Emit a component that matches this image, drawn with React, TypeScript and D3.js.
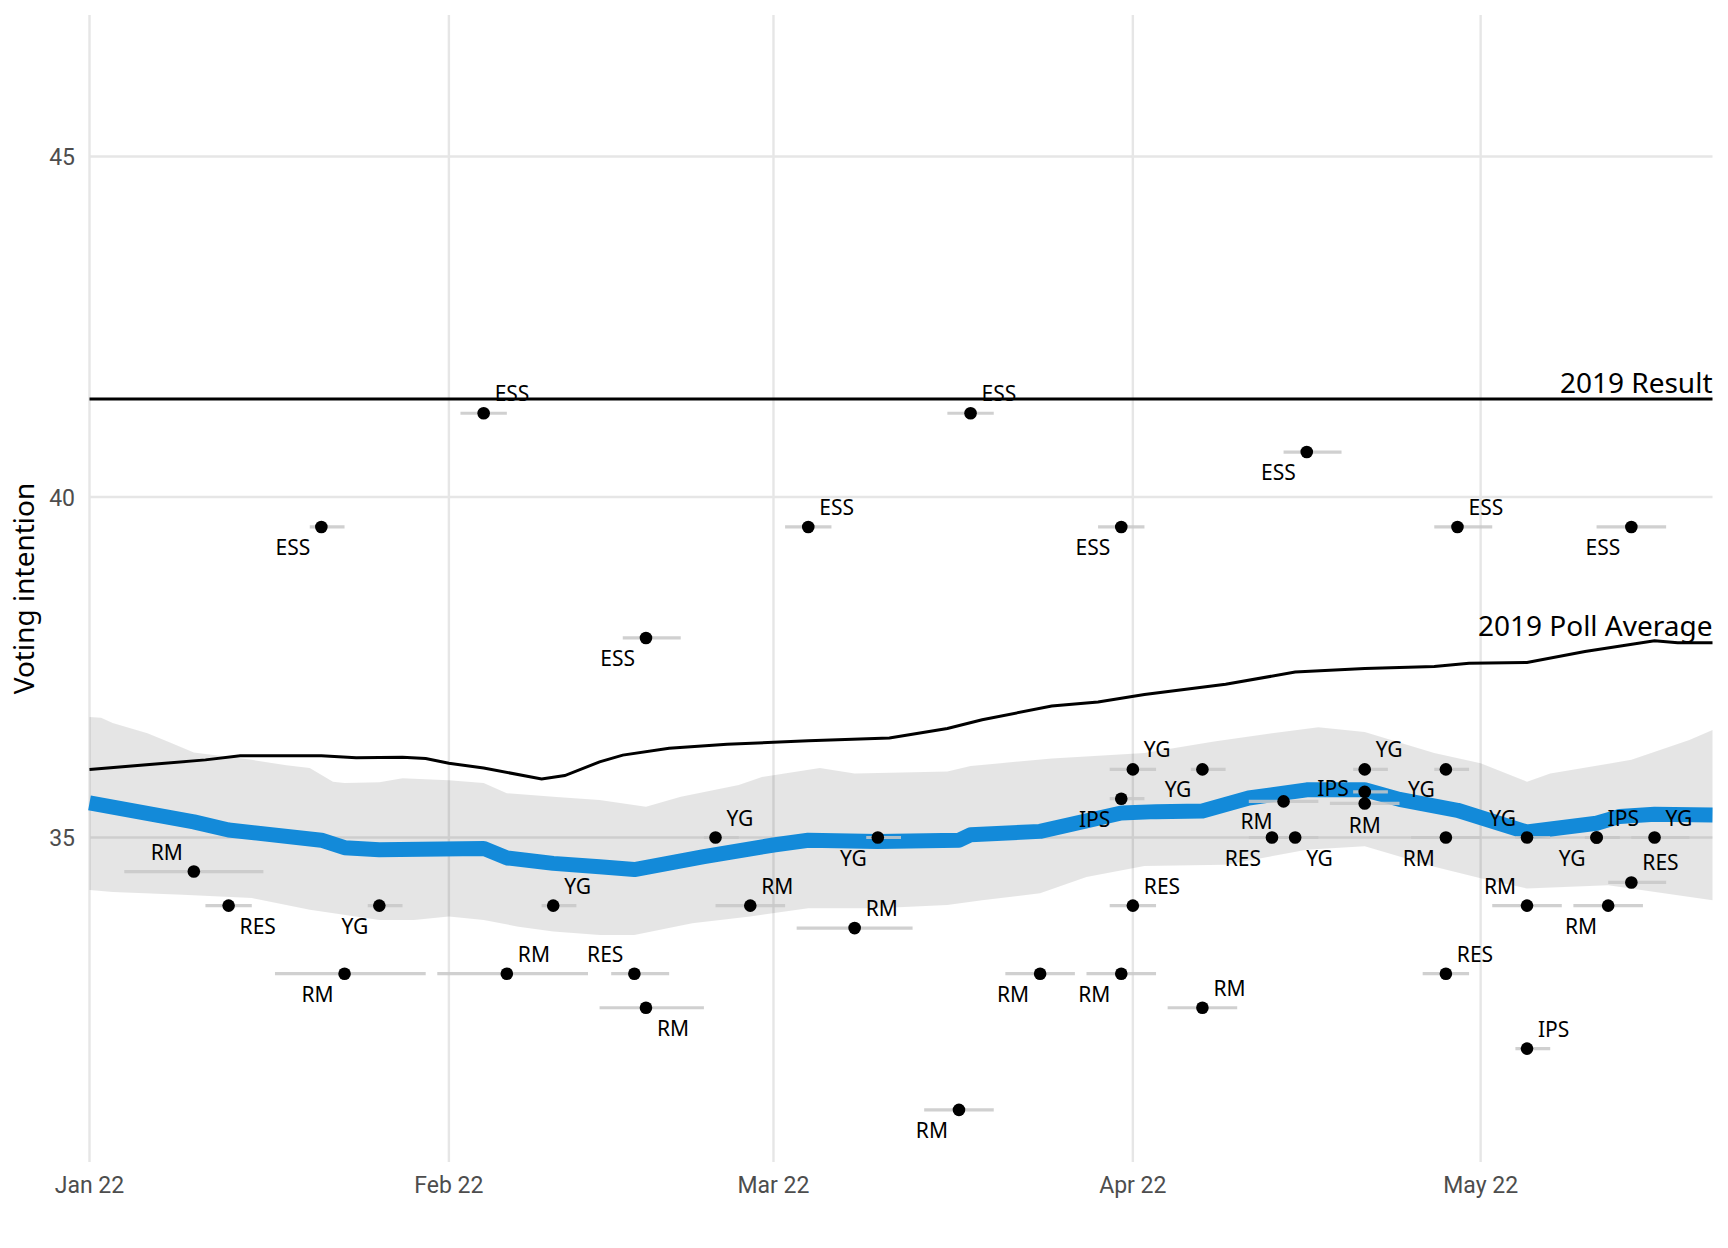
import React from "react";
import * as d3 from "d3";

// ---------- data ----------
const pollsters = ["RM","RES","ESS","RM","YG","ESS","RM","YG","RES","ESS","RM","YG","RM","ESS","RM","YG","RM","ESS","RM","ESS","RM","IPS","YG","RES","YG","RM","RES","RM","YG","ESS","YG","IPS","RM","YG","RM","RES","ESS","YG","RM","IPS","YG","IPS","RM","RES","ESS","YG"];
const pollDates = ["2022-01-10","2022-01-13","2022-01-21","2022-01-23","2022-01-26","2022-02-04","2022-02-06","2022-02-10","2022-02-17","2022-02-18","2022-02-18","2022-02-24","2022-02-27","2022-03-04","2022-03-08","2022-03-10","2022-03-17","2022-03-18","2022-03-24","2022-03-31","2022-03-31","2022-03-31","2022-04-01","2022-04-01","2022-04-07","2022-04-07","2022-04-13","2022-04-14","2022-04-15","2022-04-16","2022-04-21","2022-04-21","2022-04-21","2022-04-28","2022-04-28","2022-04-28","2022-04-29","2022-05-05","2022-05-05","2022-05-05","2022-05-11","2022-05-11","2022-05-12","2022-05-14","2022-05-14","2022-05-16"];
const pollValues = [34.5,34,39.56,33,34,41.23,33,34,33,37.93,32.5,35,34,39.56,33.67,35,31,41.23,33,39.56,33,35.57,36,34,36,32.5,35,35.53,35,40.66,36,35.67,35.5,36,35,33,39.56,35,34,31.9,35,35,34,34.34,39.56,35];
const pollStarts = ["2022-01-04","2022-01-11","2022-01-20","2022-01-17","2022-01-25","2022-02-02","2022-01-31","2022-02-09","2022-02-15","2022-02-16","2022-02-14","2022-02-23","2022-02-24","2022-03-02","2022-03-03","2022-03-09","2022-03-14","2022-03-16","2022-03-21","2022-03-29","2022-03-28","2022-03-30","2022-03-30","2022-03-30","2022-04-06","2022-04-04","2022-04-11","2022-04-11","2022-04-14","2022-04-14","2022-04-20","2022-04-20","2022-04-18","2022-04-27","2022-04-25","2022-04-26","2022-04-27","2022-05-04","2022-05-02","2022-05-04","2022-05-10","2022-05-10","2022-05-09","2022-05-12","2022-05-11","2022-05-14"];
const pollEnds = ["2022-01-16","2022-01-15","2022-01-23","2022-01-30","2022-01-28","2022-02-06","2022-02-13","2022-02-12","2022-02-20","2022-02-21","2022-02-23","2022-02-26","2022-03-02","2022-03-06","2022-03-13","2022-03-12","2022-03-20","2022-03-20","2022-03-27","2022-04-02","2022-04-03","2022-04-02","2022-04-03","2022-04-03","2022-04-09","2022-04-10","2022-04-15","2022-04-17","2022-04-17","2022-04-19","2022-04-23","2022-04-23","2022-04-24","2022-04-30","2022-05-01","2022-04-30","2022-05-02","2022-05-07","2022-05-08","2022-05-07","2022-05-13","2022-05-13","2022-05-15","2022-05-17","2022-05-17","2022-05-19"];
const labelPlacement = ["UL","LR","LL","LL","LL","UR","UR","UR","UL","LL","LR","UR","UR","UR","UR","LL","LL","UR","LL","LL","LL","LL","UR","UR","LL","UR","LL","LL","LR","LL","UR","L","B","LL","LL","UR","UR","UL","UL","UR","LL","UR","LL","UR","LL","UR"];

const trendDates = ["2022-01-01","2022-01-10","2022-01-13","2022-01-21","2022-01-23","2022-01-26","2022-02-04","2022-02-06","2022-02-10","2022-02-14","2022-02-17","2022-02-23","2022-03-01","2022-03-04","2022-03-10","2022-03-17","2022-03-18","2022-03-24","2022-03-31","2022-04-03","2022-04-07","2022-04-11","2022-04-16","2022-04-21","2022-04-24","2022-04-29","2022-05-05","2022-05-11","2022-05-13","2022-05-16","2022-05-21"];
const trendValues = [35.51,35.23,35.11,34.96,34.85,34.82,34.84,34.70,34.62,34.57,34.53,34.72,34.89,34.96,34.94,34.96,35.04,35.09,35.36,35.38,35.39,35.58,35.70,35.70,35.56,35.40,35.08,35.21,35.31,35.34,35.33];

const bandUpperDates = ["2022-01-01","2022-01-02","2022-01-03","2022-01-06","2022-01-08","2022-01-10","2022-01-15","2022-01-18","2022-01-20","2022-01-22","2022-01-23","2022-01-26","2022-01-28","2022-02-01","2022-02-04","2022-02-06","2022-02-10","2022-02-14","2022-02-18","2022-02-21","2022-02-26","2022-02-28","2022-03-05","2022-03-08","2022-03-16","2022-03-18","2022-03-25","2022-04-02","2022-04-08","2022-04-13","2022-04-17","2022-04-21","2022-04-27","2022-05-01","2022-05-05","2022-05-07","2022-05-14","2022-05-19","2022-05-21"];
const bandUpperValues = [36.77,36.76,36.68,36.53,36.39,36.25,36.14,36.06,36.02,35.82,35.80,35.81,35.87,35.84,35.80,35.65,35.60,35.55,35.45,35.60,35.77,35.89,36.02,35.94,35.97,36.05,36.16,36.24,36.41,36.53,36.62,36.55,36.24,36.09,35.82,35.94,36.14,36.43,36.58];
const bandLowerDates = ["2022-01-01","2022-01-03","2022-01-09","2022-01-15","2022-01-20","2022-01-26","2022-01-29","2022-02-01","2022-02-04","2022-02-07","2022-02-10","2022-02-14","2022-02-17","2022-02-22","2022-02-27","2022-03-04","2022-03-10","2022-03-16","2022-03-19","2022-03-24","2022-03-28","2022-04-02","2022-04-09","2022-04-16","2022-04-21","2022-04-27","2022-05-01","2022-05-05","2022-05-12","2022-05-21"];
const bandLowerValues = [34.23,34.20,34.16,34.11,33.94,33.79,33.79,33.84,33.79,33.69,33.62,33.57,33.57,33.74,33.84,33.96,33.96,34.01,34.08,34.18,34.42,34.58,34.60,34.82,34.87,34.57,34.40,34.25,34.30,34.08];

const avg2019Dates = ["2022-01-01","2022-01-11","2022-01-14","2022-01-21","2022-01-24","2022-01-28","2022-01-30","2022-02-01","2022-02-04","2022-02-09","2022-02-11","2022-02-14","2022-02-16","2022-02-20","2022-02-25","2022-03-04","2022-03-11","2022-03-16","2022-03-19","2022-03-25","2022-03-29","2022-04-02","2022-04-09","2022-04-15","2022-04-21","2022-04-27","2022-04-30","2022-05-05","2022-05-10","2022-05-16","2022-05-18","2022-05-21"];
const avg2019Values = [36.00,36.14,36.20,36.20,36.17,36.18,36.16,36.09,36.02,35.86,35.91,36.11,36.21,36.31,36.37,36.42,36.46,36.60,36.73,36.93,36.99,37.10,37.25,37.43,37.48,37.51,37.56,37.57,37.73,37.89,37.86,37.86];

const result2019 = 41.44;
const yTicks = [35, 40, 45];
const xTickDates = ["2022-01-01","2022-02-01","2022-03-01","2022-04-01","2022-05-01"];
const xDomain = ["2022-01-01", "2022-05-21"];
const yDomain = [30.235, 47.078];

// ---------- layout ----------
const W = 1728, H = 1248;
const P = { left: 89.5, right: 1712.5, top: 15, bottom: 1162 };
const LABEL_FONT = "'Noto Sans', 'Open Sans', sans-serif";
const TICK_FONT = "Roboto, 'Noto Sans', sans-serif";

const placement: Record<string, { anchor: string; dx: number; dy: number }> = {
  UR: { anchor: "start", dx: 11, dy: -12 },
  UL: { anchor: "end", dx: -11, dy: -12 },
  LR: { anchor: "start", dx: 11, dy: 28 },
  LL: { anchor: "end", dx: -11, dy: 28 },
  L: { anchor: "end", dx: -16, dy: 4 },
  B: { anchor: "middle", dx: 0, dy: 30 },
};

const parse = d3.utcParse("%Y-%m-%d");

export default function App() {
  const x = d3.scaleUtc().domain([parse(xDomain[0])!, parse(xDomain[1])!]).range([P.left, P.right]);
  const y = d3.scaleLinear().domain(yDomain).range([P.bottom, P.top]);
  const line = d3.line<[Date, number]>().x(d => x(d[0])).y(d => y(d[1]));
  const fmt = d3.utcFormat("%b %y");

  const trend: [Date, number][] = trendDates.map((d, i) => [parse(d)!, trendValues[i]]);
  const avg: [Date, number][] = avg2019Dates.map((d, i) => [parse(d)!, avg2019Values[i]]);
  const upper: [Date, number][] = bandUpperDates.map((d, i) => [parse(d)!, bandUpperValues[i]]);
  const lower: [Date, number][] = bandLowerDates.map((d, i) => [parse(d)!, bandLowerValues[i]]);
  const bandPath = line([...upper, ...lower.slice().reverse()]) + "Z";

  const polls = pollsters.map((p, i) => ({
    name: p,
    date: parse(pollDates[i])!,
    value: pollValues[i],
    start: parse(pollStarts[i])!,
    end: parse(pollEnds[i])!,
    place: placement[labelPlacement[i]],
  }));

  const avgLast = avg[avg.length - 1];

  return (
    <svg width={W} height={H} style={{ position: "absolute", left: 0, top: 0, background: "#fff" }}>
      {/* grid */}
      <g stroke="#e6e6e6" strokeWidth={2.4}>
        {yTicks.map(t => (
          <line key={t} x1={P.left} x2={P.right} y1={y(t)} y2={y(t)} />
        ))}
        {xTickDates.map(t => (
          <line key={t} x1={x(parse(t)!)} x2={x(parse(t)!)} y1={P.top} y2={P.bottom} />
        ))}
      </g>
      {/* ribbon */}
      <path d={bandPath} fill="#000" fillOpacity={0.1} stroke="none" />
      {/* 2019 result and poll average */}
      <line x1={P.left} x2={P.right} y1={y(result2019)} y2={y(result2019)} stroke="#000" strokeWidth={3} />
      <path d={line(avg)!} fill="none" stroke="#000" strokeWidth={3} />
      {/* trend */}
      <path d={line(trend)!} fill="none" stroke="#138AD9" strokeWidth={15} strokeLinejoin="round" />
      {/* error bars */}
      <g stroke="#c8c8c8" strokeOpacity={0.85} strokeWidth={3.2}>
        {polls.map((p, i) => (
          <line key={i} x1={x(p.start)} x2={x(p.end)} y1={y(p.value)} y2={y(p.value)} />
        ))}
      </g>
      {/* points */}
      <g fill="#000">
        {polls.map((p, i) => (
          <circle key={i} cx={x(p.date)} cy={y(p.value)} r={6.3} />
        ))}
      </g>
      {/* labels */}
      <g fontFamily={LABEL_FONT} fontSize={21} fill="#000">
        {polls.map((p, i) => (
          <text key={i} x={x(p.date) + p.place.dx} y={y(p.value) + p.place.dy} textAnchor={p.place.anchor}>
            {p.name}
          </text>
        ))}
      </g>
      <text x={P.right} y={y(result2019) - 6} textAnchor="end" fontFamily={LABEL_FONT} fontSize={28} fill="#000">
        2019 Result
      </text>
      <text x={P.right} y={y(avgLast[1]) - 7} textAnchor="end" fontFamily={LABEL_FONT} fontSize={28} fill="#000">
        2019 Poll Average
      </text>
      {/* axes text */}
      <g fontFamily={TICK_FONT} fontSize={23} fill="#4d4d4d">
        {yTicks.map(t => (
          <text key={t} x={75} y={y(t) + 8.5} textAnchor="end">{t}</text>
        ))}
        {xTickDates.map(t => (
          <text key={t} x={x(parse(t)!)} y={1193} textAnchor="middle">{fmt(parse(t)!)}</text>
        ))}
      </g>
      <text
        transform={`translate(34, ${(P.top + P.bottom) / 2}) rotate(-90)`}
        textAnchor="middle"
        fontFamily={LABEL_FONT}
        fontSize={28}
        fill="#000"
      >
        Voting intention
      </text>
    </svg>
  );
}
